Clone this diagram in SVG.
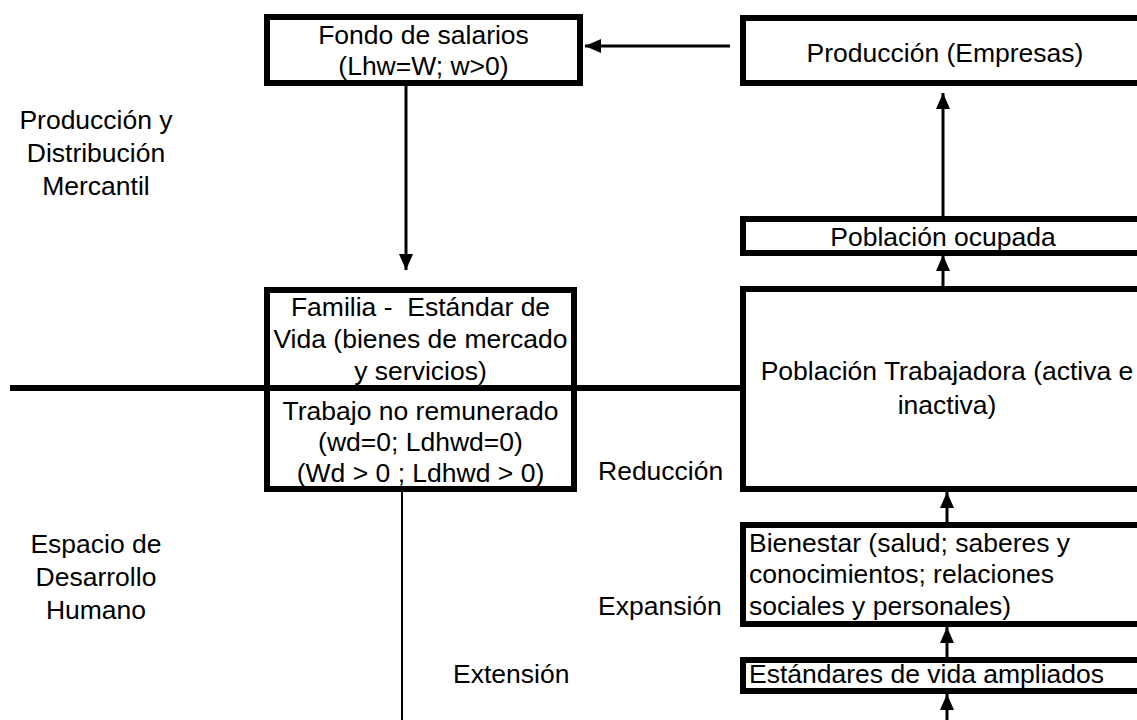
<svg xmlns="http://www.w3.org/2000/svg" width="1137" height="720" viewBox="0 0 1137 720">
<style>
.box{fill:#fff;stroke:#000;stroke-width:6}
.t{font-family:"Liberation Sans",Arial,sans-serif;font-size:26.5px;fill:#000}
.c{text-anchor:middle}
.conn{stroke:#000;stroke-width:3;fill:none}
</style>
<defs>
<marker id="ah" markerUnits="userSpaceOnUse" markerWidth="16" markerHeight="14" refX="16" refY="7" orient="auto">
<path d="M0,0 L16,7 L0,14 z" fill="#000"/>
</marker>
</defs>
<rect width="1137" height="720" fill="#fff"/>
<g id="labels">
<text class="t c" x="96" y="129">Producción y</text>
<text class="t c" x="96" y="162">Distribución</text>
<text class="t c" x="96" y="195">Mercantil</text>
<text class="t c" x="96" y="553">Espacio de</text>
<text class="t c" x="96" y="586">Desarrollo</text>
<text class="t c" x="96" y="619">Humano</text>
<text class="t" x="598" y="480">Reducción</text>
<text class="t" x="598" y="615">Expansión</text>
<text class="t" x="453" y="683">Extensión</text>
</g>
<g id="connectors">
<line x1="10" y1="388" x2="742" y2="388" stroke="#000" stroke-width="6"/>
<line class="conn" x1="730" y1="46" x2="585" y2="46" marker-end="url(#ah)"/>
<line class="conn" x1="406" y1="86" x2="406" y2="270" marker-end="url(#ah)"/>
<line class="conn" x1="943" y1="216" x2="943" y2="93" marker-end="url(#ah)"/>
<line class="conn" x1="943" y1="286" x2="943" y2="255" marker-end="url(#ah)"/>
<line class="conn" x1="947" y1="522" x2="947" y2="492" marker-end="url(#ah)"/>
<line class="conn" x1="947" y1="657" x2="947" y2="627" marker-end="url(#ah)"/>
<line class="conn" x1="947" y1="722" x2="947" y2="694" marker-end="url(#ah)"/>
<line x1="402" y1="492" x2="402" y2="720" stroke="#000" stroke-width="2"/>
</g>
<g id="fondo">
<rect class="box" x="267" y="17" width="313" height="66"/>
<text class="t c" x="423.5" y="44">Fondo de salarios</text>
<text class="t c" x="423.5" y="75">(Lhw=W; w&gt;0)</text>
</g>
<g id="familia">
<rect class="box" x="267" y="290" width="307" height="199"/>
<line x1="264" y1="388" x2="577" y2="388" stroke="#000" stroke-width="6"/>
<text class="t c" x="420.5" y="316" xml:space="preserve">Familia -  Estándar de</text>
<text class="t c" x="420.5" y="348">Vida (bienes de mercado</text>
<text class="t c" x="420.5" y="380">y servicios)</text>
<text class="t c" x="420.5" y="420">Trabajo no remunerado</text>
<text class="t c" x="420.5" y="451">(wd=0; Ldhwd=0)</text>
<text class="t c" x="420.5" y="482">(Wd &gt; 0 ; Ldhwd &gt; 0)</text>
</g>
<g id="produccion">
<rect class="box" x="743" y="18" width="404" height="65"/>
<text class="t c" x="945" y="62">Producción (Empresas)</text>
</g>
<g id="ocupada">
<rect class="box" x="743" y="219" width="404" height="34"/>
<text class="t c" x="943" y="246">Población ocupada</text>
</g>
<g id="trabajadora">
<rect class="box" x="743" y="289" width="404" height="200"/>
<text class="t c" x="947" y="380">Población Trabajadora (activa e</text>
<text class="t c" x="947" y="414">inactiva)</text>
</g>
<g id="bienestar">
<rect class="box" x="743" y="525" width="404" height="99"/>
<text class="t" x="749" y="552">Bienestar (salud; saberes y</text>
<text class="t" x="749" y="583">conocimientos; relaciones</text>
<text class="t" x="749" y="615">sociales y personales)</text>
</g>
<g id="estandares">
<rect class="box" x="743" y="660" width="404" height="31"/>
<text class="t" x="749" y="683">Estándares de vida ampliados</text>
</g>
</svg>
